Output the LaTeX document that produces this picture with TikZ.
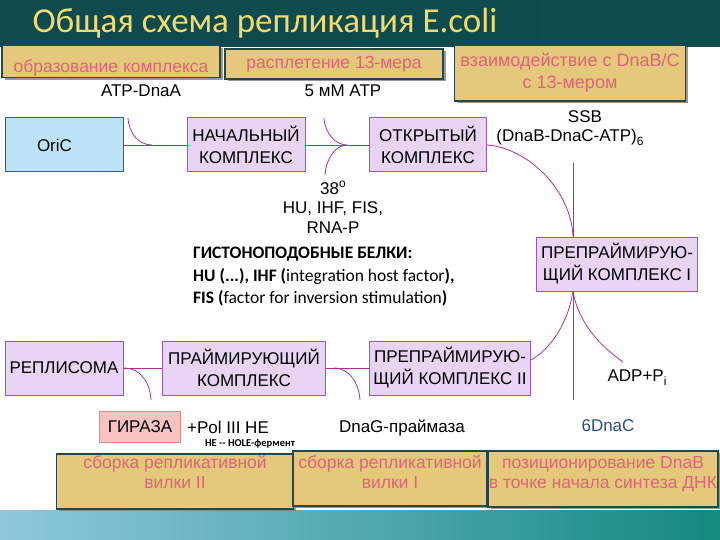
\documentclass[tikz,border=0pt]{standalone}
\usepackage{fontspec}
\setmainfont{Liberation Sans}
\newfontfamily\calibri{Carlito}
\usetikzlibrary{shadows}
\definecolor{stagefill}{HTML}{E5C87C}
\definecolor{stageedge}{HTML}{24484A}
\definecolor{stagetext}{HTML}{E0647A}
\definecolor{cplxfill}{HTML}{E8D4F4}
\definecolor{cplxedge}{HTML}{9B55B5}
\definecolor{origfill}{HTML}{BDE3F6}
\definecolor{origedge}{HTML}{2E5C94}
\definecolor{linkcol}{HTML}{B22DA0}
\definecolor{gyrfill}{HTML}{F7C2C2}
\definecolor{gyredge}{HTML}{E38B8B}
\definecolor{dnactext}{HTML}{2B4C8C}
\definecolor{titlegold}{HTML}{F2DA72}
\definecolor{bandleft}{HTML}{0F4A4E}
\definecolor{bandmid}{HTML}{3F7F7E}
\definecolor{bandright}{HTML}{0E4C4E}
\definecolor{lowleft}{HTML}{8FC8E0}
\definecolor{lowmid}{HTML}{9DBFC4}
\definecolor{lowright}{HTML}{138A7E}

\begin{document}
\begin{tikzpicture}[
    x=1pt,
    y=-1pt,
    every node/.style={font=\fontsize{17}{21}\selectfont, inner sep=0pt},
    stage/.style={draw=stageedge, fill=stagefill, line width=1.5pt,
        text=stagetext, align=center, font=\fontsize{17.5}{20}\selectfont,
        drop shadow={shadow xshift=2.5pt, shadow yshift=-2.5pt,
            fill=black!50, opacity=0.8}},
    cplx/.style={draw=cplxedge, fill=cplxfill, line width=1pt,
        align=center, minimum height=54pt, font=\fontsize{17}{22}\selectfont},
    origin/.style={cplx, draw=origedge, fill=origfill},
    link/.style={draw=linkcol, line width=0.8pt},
    lbl/.style={align=center},
    hist/.style={font=\calibri\fontsize{17.5}{22.5}\selectfont, align=left}
]
    \useasboundingbox (0,0) rectangle (720,540);
    \shade[left color=bandleft, middle color=bandmid, right color=bandright]
        (0,0) rectangle (720,47);
    \shade[left color=lowleft, middle color=lowmid, right color=lowright]
        (0,510) rectangle (720,540);

    \node[text=titlegold] (title) at (265,23)
        {\calibri\fontsize{35}{40}\selectfont Общая схема репликация E.coli};

    \node[stage, minimum width=218pt, anchor=north, text height=27pt,
        text depth=5pt] (forming) at (111,45) {образование комплекса};
    \node[stage, minimum width=218pt, minimum height=30pt] (unwinding) at (334,64)
        {расплетение 13-мера};
    \node[stage, minimum width=231pt, minimum height=56pt,
        font=\fontsize{18}{22}\selectfont] (contact) at (570,73)
        {взаимодействие с DnaB/C\\с 13-мером};

    \node[lbl] (atp) at (141,91) {ATP-DnaA};
    \node[lbl] (mmatp) at (343,91) {5 мМ ATP};
    \node[lbl] (ssb) at (585,117) {SSB};
    \node[lbl] (dnab) at (570,137)
        {(DnaB-DnaC-ATP)\raisebox{-4pt}{\fontsize{12}{12}\selectfont 6}};

    \node[origin, minimum width=118pt, text width=54pt, align=left] (oric) at (64,145) {OriC};
    \node[cplx, minimum width=118pt] (nach) at (246,145) {НАЧАЛЬНЫЙ\\КОМПЛЕКС};
    \node[cplx, minimum width=117pt] (otkr) at (428,145) {ОТКРЫТЫЙ\\КОМПЛЕКС};
    \node[cplx, minimum width=161pt] (prepI) at (617,264)
        {ПРЕПРАЙМИРУЮ-\\ЩИЙ КОМПЛЕКС I};
    \node[cplx, minimum width=161pt] (prepII) at (450,368)
        {ПРЕПРАЙМИРУЮ-\\ЩИЙ КОМПЛЕКС II};
    \node[cplx, minimum width=163pt] (priming) at (244,368)
        {ПРАЙМИРУЮЩИЙ\\КОМПЛЕКС};
    \node[cplx, minimum width=118pt] (replisome) at (64,368) {РЕПЛИСОМА};

    \node[lbl, font=\fontsize{17}{19.5}\selectfont] (factors) at (333,207)
        {38\raisebox{7pt}{\fontsize{12}{12}\selectfont o}\\HU, IHF, FIS,\\RNA-P};
    \node[hist, anchor=north west] (histone) at (193,247)
        {\bfseries ГИСТОНОПОДОБНЫЕ БЕЛКИ:\\
         \bfseries HU (...), IHF (\mdseries integration host factor\bfseries ),\\
         \bfseries FIS (\mdseries factor for inversion stimulation\bfseries )};

    \node[lbl] (adp) at (637,378) {ADP+P\raisebox{-4pt}{\fontsize{12}{12}\selectfont i}};
    \node[draw=gyredge, fill=gyrfill, line width=0.8pt, minimum width=81pt,
        minimum height=31pt] (gyrase) at (140,427) {ГИРАЗА};
    \node[lbl] (pol) at (228,427) {+Pol III HE};
    \node[font=\calibri\bfseries\fontsize{10.5}{11}\selectfont] (hole) at (250,444)
        {HE -- HOLE-фермент};
    \node[lbl] (dnag) at (402,428) {DnaG-праймаза};
    \node[lbl, text=dnactext] (dnac) at (608,426) {6DnaC};

    \node[stage, minimum width=237pt, anchor=north, text height=35pt,
        text depth=20pt] (forkII) at (175,453) {сборка репликативной\\вилки II};
    \node[stage, minimum width=194pt, anchor=north, text height=38pt,
        text depth=17pt] (forkI) at (390,450) {сборка репликативной\\вилки I};
    \node[stage, minimum width=230pt, anchor=north, text height=38pt,
        text depth=18pt] (position) at (603,450)
        {позиционирование DnaB\\в точке начала синтеза ДНК};

    \coordinate (atpin) at (128,118);
    \coordinate (atpjoin) at (152,145);
    \coordinate (mmin) at (324,118);
    \coordinate (tempin) at (325,175);
    \coordinate (openjoin) at (347,145);
    \coordinate (ssbin) at (573,163);
    \coordinate (dnacout) at (573,400);
    \coordinate (adpout) at (623,362);
    \coordinate (gyrout) at (151,400);
    \coordinate (dnagout) at (360,400);

    \draw[link] (oric) -- (nach);
    \draw[link] (nach) -- (otkr);
    \draw[link] (atpin) .. controls (129,134) and (139,145) .. (atpjoin);
    \draw[link] (mmin) .. controls (325,134) and (336,145) .. (openjoin);
    \draw[link] (tempin) .. controls (326,158) and (336,145) .. (openjoin);
    \draw[link] (otkr.east) .. controls (528,148) and (571,190) .. ([xshift=-44pt]prepI.north);
    \draw[link] (ssbin) -- ([xshift=-44pt]prepI.north);
    \draw[link] ([xshift=-44pt]prepI.south) -- (dnacout);
    \draw[link] ([xshift=-44pt]prepI.south) .. controls (568,322) and (552,348)
        .. ([yshift=8pt]prepII.east);
    \draw[link] ([xshift=-44pt]prepI.south) .. controls (578,322) and (600,346) .. (adpout);
    \draw[link] (replisome) -- (priming);
    \draw[link] (priming) -- (prepII);
    \draw[link] (replisome.east) .. controls (142,368) and (150,384) .. (gyrout);
    \draw[link] ([xshift=8pt]priming.east) .. controls (350,368) and (359,384) .. (dnagout);
\end{tikzpicture}
\end{document}
